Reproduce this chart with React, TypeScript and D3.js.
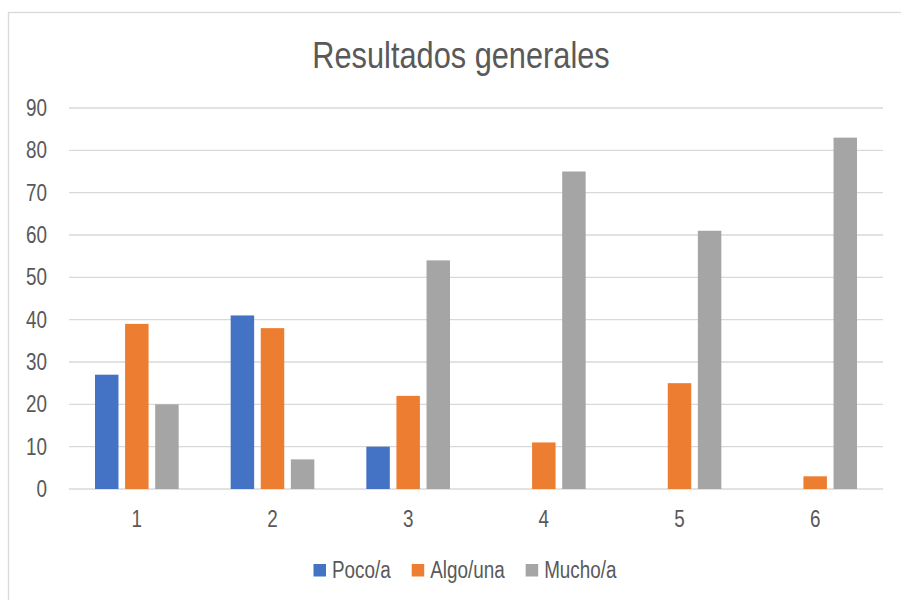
import React from 'react';
import * as d3 from 'd3';

const categories = ['1', '2', '3', '4', '5', '6'];
const seriesNames = ['Poco/a', 'Algo/una', 'Mucho/a'];
const poco = [27, 41, 10, 0, 0, 0];
const algo = [39, 38, 22, 11, 25, 3];
const mucho = [20, 7, 54, 75, 61, 83];
const yTicks = [0, 10, 20, 30, 40, 50, 60, 70, 80, 90];
const colors = ['#4472C4', '#ED7D31', '#A5A5A5'];

const W = 901;
const H = 600;
const FONT = "'Liberation Sans', Arial, sans-serif";
// no narrow font installed, so squeeze Liberation Sans like Arial Narrow
const NARROW = 0.82;

function textWidth(txt: string, size: number) {
  const ctx = document.createElement('canvas').getContext('2d');
  if (!ctx) return txt.length * size * 0.5 * NARROW;
  ctx.font = `${size}px ${FONT}`;
  return ctx.measureText(txt).width * NARROW;
}

function NText(props: { x: number; y: number; size: number; anchor?: string; dy?: string; children: React.ReactNode }) {
  return (
    <text
      transform={`translate(${props.x},${props.y}) scale(${NARROW},1)`}
      dy={props.dy}
      textAnchor={props.anchor || 'start'}
      fontSize={props.size}
      fill="#595959"
    >
      {props.children}
    </text>
  );
}

export default function App() {
  const margin = { top: 108, right: 18, bottom: 111, left: 69 };
  const values = [poco, algo, mucho];

  const x = d3.scaleBand()
    .domain(categories)
    .range([margin.left, W - margin.right]);

  const inner = d3.scaleBand()
    .domain(seriesNames)
    .range([26, x.bandwidth() - 26])
    .paddingInner(0.22);

  const y = d3.scaleLinear()
    .domain([0, 90])
    .range([H - margin.bottom, margin.top]);

  // legend layout
  const legendSize = 23;
  const sq = 12.5;
  const widths = seriesNames.map(n => sq + 6 + textWidth(n, legendSize));
  const gap = 21;
  const total = d3.sum(widths) + gap * (widths.length - 1);
  let lx = 465 - total / 2;
  const legendItems = seriesNames.map((n, i) => {
    const item = { name: n, x: lx, color: colors[i] };
    lx += widths[i] + gap;
    return item;
  });

  return (
    <div style={{ position: 'absolute', left: 0, top: 0 }}>
      <svg width={W} height={H} style={{ display: 'block', background: '#fff' }} fontFamily={FONT}>
        <rect x={8.5} y={12.5} width={W + 20} height={H + 20} fill="#fff" stroke="#d9d9d9" strokeWidth={1.3} />

        <NText x={461} y={68} size={37.5} anchor="middle">Resultados generales</NText>

        <g>
          {yTicks.map(t => (
            <g key={t}>
              <line x1={margin.left} x2={W - margin.right} y1={y(t)} y2={y(t)} stroke="#d9d9d9" strokeWidth={1.3} />
              <NText x={47} y={y(t)} dy="0.35em" anchor="end" size={23}>{t}</NText>
            </g>
          ))}
        </g>

        <g>
          {categories.map((c, ci) => (
            <g key={c} transform={`translate(${x(c)},0)`}>
              {seriesNames.map((s, si) => {
                const v = values[si][ci];
                if (!v) return null;
                return (
                  <rect key={s} x={inner(s)} y={y(v)} width={inner.bandwidth()} height={y(0) - y(v)} fill={colors[si]} />
                );
              })}
            </g>
          ))}
        </g>

        <g>
          {categories.map(c => (
            <NText key={c} x={(x(c) || 0) + x.bandwidth() / 2} y={527} anchor="middle" size={23}>{c}</NText>
          ))}
        </g>

        <g>
          {legendItems.map(it => (
            <g key={it.name}>
              <rect x={it.x} y={564} width={sq} height={sq} fill={it.color} />
              <NText x={it.x + sq + 6} y={578} size={legendSize}>{it.name}</NText>
            </g>
          ))}
        </g>
      </svg>
    </div>
  );
}
